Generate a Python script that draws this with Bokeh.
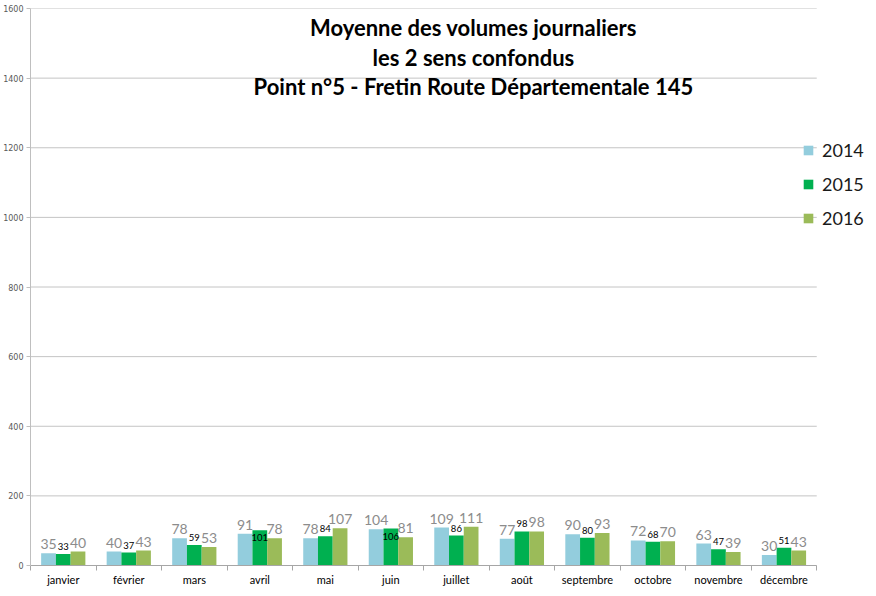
from bokeh.plotting import figure
from bokeh.models import ColumnDataSource, FixedTicker, Legend, LegendItem, Label
from bokeh.core.properties import value
from bokeh.embed import file_html
from bokeh.resources import INLINE

months = ["janvier", "février", "mars", "avril", "mai", "juin", "juillet",
          "août", "septembre", "octobre", "novembre", "décembre"]
v2014 = [35, 40, 78, 91, 78, 104, 109, 77, 90, 72, 63, 30]
v2015 = [33, 37, 59, 101, 84, 106, 86, 98, 80, 68, 47, 51]
v2016 = [40, 43, 53, 78, 107, 81, 111, 98, 93, 70, 39, 43]
years = ["2014", "2015", "2016"]
y_ticks = [0, 200, 400, 600, 800, 1000, 1200, 1400, 1600]
title_lines = ["Moyenne des volumes journaliers",
               "les 2 sens confondus",
               "Point n°5 - Fretin Route Départementale 145"]

colors = ["#93CDDD", "#00B050", "#9BBB59"]
bw = 0.225
offsets = [-bw, 0.0, bw]
n = len(months)

p = figure(width=868, height=588, x_range=(0, 12.79), y_range=(0, 1600),
           output_backend="svg", toolbar_location=None,
           min_border_left=30, min_border_right=0, min_border_top=8,
           min_border_bottom=18)
p.outline_line_color = None
p.background_fill_color = "white"

centers = [i + 0.5 for i in range(n)]

# horizontal gridlines limited to the category area
grid_src = ColumnDataSource(dict(y=y_ticks, x0=[0] * len(y_ticks), x1=[n] * len(y_ticks)))
p.segment(x0="x0", x1="x1", y0="y", y1="y", source=grid_src,
          line_color="#c4c4c4", line_width=1, level="underlay")
p.ygrid.grid_line_color = None
p.xgrid.grid_line_color = None

renderers = []
for vals, off, col in zip([v2014, v2015, v2016], offsets, colors):
    src = ColumnDataSource(dict(x=[c + off for c in centers], top=vals))
    r = p.vbar(x="x", top="top", width=bw, source=src, fill_color=col,
               line_color=None)
    renderers.append(r)

# data labels
for vals, off in [(v2014, offsets[0]), (v2016, offsets[2])]:
    src = ColumnDataSource(dict(x=[c + off for c in centers], y=vals,
                                lab=[str(v) for v in vals]))
    p.text(x="x", y="y", text="lab", source=src, text_align="center",
           text_baseline="bottom", y_offset=-4, text_color="#8c8c8c",
           text_font=value("Lato"), text_font_size="14px")

above_x, above_y, inside_x, inside_y = [], [], [], []
for i, c in enumerate(centers):
    if v2015[i] > 100 and v2015[i] > v2014[i] and v2015[i] > v2016[i]:
        inside_x.append(c); inside_y.append(v2015[i])
    else:
        above_x.append(c); above_y.append(v2015[i])
src_a = ColumnDataSource(dict(x=above_x, y=above_y, lab=[str(v) for v in above_y]))
src_i = ColumnDataSource(dict(x=inside_x, y=inside_y, lab=[str(v) for v in inside_y]))
p.text(x="x", y="y", text="lab", source=src_a, text_align="center",
       text_baseline="bottom", y_offset=-4, text_color="black",
       text_font=value("Lato"), text_font_size="9.5px")
p.text(x="x", y="y", text="lab", source=src_i, text_align="center",
       text_baseline="top", y_offset=4, text_color="black",
       text_font=value("Lato"), text_font_size="9.5px")

# axes
p.xaxis.bounds = (0, n)
p.xaxis.ticker = FixedTicker(ticks=centers, minor_ticks=list(range(0, n + 1)))
p.xaxis.major_label_overrides = {c: m for c, m in zip(centers, months)}
p.xaxis.major_tick_line_color = None
p.xaxis.major_tick_out = 0
p.xaxis.major_tick_in = 0
p.xaxis.minor_tick_out = 5
p.xaxis.minor_tick_in = 0
p.xaxis.minor_tick_line_color = "#a6a6a6"
p.xaxis.axis_line_color = "#a6a6a6"
p.xaxis.major_label_text_font = "Lato"
p.xaxis.major_label_text_font_size = "11px"
p.xaxis.major_label_text_color = "black"
p.xaxis.major_label_standoff = 2

p.yaxis.ticker = FixedTicker(ticks=y_ticks)
p.yaxis.minor_tick_line_color = None
p.yaxis.major_tick_out = 4
p.yaxis.major_tick_in = 0
p.yaxis.major_tick_line_color = "#bfbfbf"
p.yaxis.axis_line_color = "#bfbfbf"
p.yaxis.major_label_text_font = "DejaVu Sans"
p.yaxis.major_label_text_font_size = "8px"
p.yaxis.major_label_text_color = "#595959"
p.yaxis.major_label_standoff = 3

# title lines
for t, yv in zip(title_lines, [1545, 1459, 1375]):
    p.add_layout(Label(x=6.76, y=yv, text=t, text_align="center",
                       text_baseline="middle", text_font="Lato",
                       text_font_style="bold", text_font_size="22px",
                       text_color="black"))

legend = Legend(items=[LegendItem(label=y, renderers=[r]) for y, r in zip(years, renderers)],
                location=(772, 336), orientation="vertical",
                glyph_width=12, glyph_height=12, label_standoff=8,
                label_text_font="Lato", label_text_font_size="18px",
                label_text_color="#1a1a1a", spacing=12, padding=0, margin=0,
                border_line_color=None, background_fill_alpha=0)
p.add_layout(legend)

open("out.html", "w").write(file_html(p, INLINE))
